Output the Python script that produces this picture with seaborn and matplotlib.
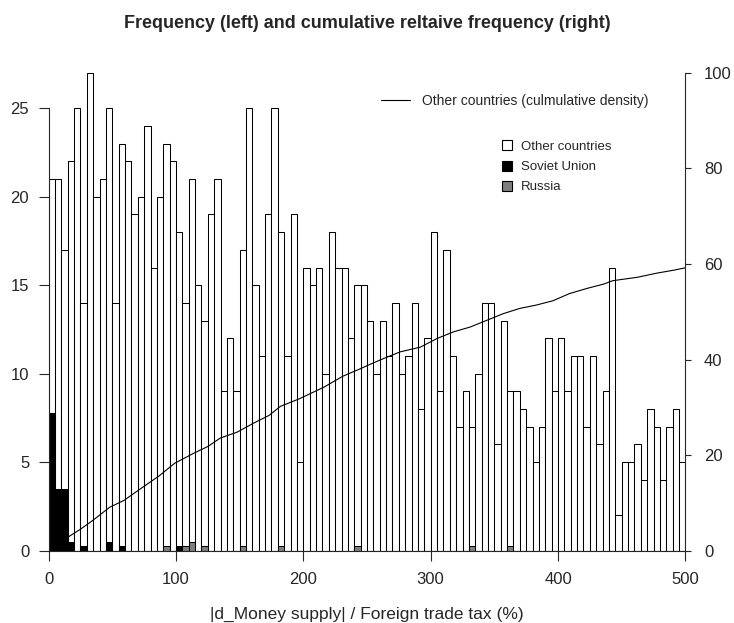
import numpy as np
import pandas as pd
import matplotlib
matplotlib.use("Agg")
import matplotlib.pyplot as plt
from matplotlib.lines import Line2D
import seaborn as sns

# ---------------- data ----------------
bin_width = 5
bin_start = list(range(0, 500, 5))
other_counts = [21, 21, 17, 22, 25, 14, 27, 20, 21, 25, 14, 23, 22, 19, 20, 24, 16, 20, 23, 22,
                18, 14, 21, 15, 13, 19, 21, 9, 12, 9, 17, 25, 15, 11, 19, 25, 18, 11, 19, 5,
                16, 15, 16, 10, 18, 16, 16, 12, 15, 15, 13, 10, 13, 11, 14, 10, 11, 14, 8, 12,
                18, 9, 17, 11, 7, 9, 7, 10, 14, 14, 6, 13, 9, 9, 8, 7, 5, 7, 12, 9,
                12, 9, 11, 11, 7, 11, 6, 9, 16, 2, 5, 5, 6, 4, 8, 7, 4, 7, 8, 5]
soviet_bins = [0, 5, 10, 15, 25, 45, 55, 100]
soviet_vals = [7.8, 3.5, 3.5, 0.5, 0.25, 0.5, 0.25, 0.25]
russia_bins = [90, 105, 110, 120, 150, 180, 240, 330, 360]
russia_vals = [0.25, 0.25, 0.5, 0.25, 0.25, 0.25, 0.25, 0.25, 0.25]
cum_x = [15, 25, 35, 48, 59, 74, 87, 99, 114, 125, 135, 148, 161, 173, 182, 197, 216, 231,
         245, 255, 263, 276, 292, 305, 318, 331, 344, 357, 370, 383, 396, 409, 423, 436,
         443, 462, 478, 491, 500]
cum_y = [2.8, 4.5, 6.4, 9.1, 10.5, 13.3, 15.7, 18.3, 20.4, 21.8, 23.6, 24.8, 26.7, 28.3,
         30.2, 31.8, 34.2, 36.5, 38.1, 39.3, 40.2, 41.6, 42.6, 44.4, 45.8, 46.8, 48.2, 49.6,
         50.7, 51.4, 52.3, 53.8, 54.9, 55.8, 56.5, 57.2, 58.1, 58.7, 59.2]
x_ticks = [0, 100, 200, 300, 400, 500]
left_ticks = [0, 5, 10, 15, 20, 25]
right_ticks = [0, 20, 40, 60, 80, 100]

title = "Frequency (left) and cumulative reltaive frequency (right)"
xlabel = "|d_Money supply| / Foreign trade tax (%)"

# ---------------- style ----------------
sns.set_style("ticks")
plt.rcParams["font.family"] = ["Liberation Sans", "DejaVu Sans"]
plt.rcParams["axes.linewidth"] = 0.8

other_df = pd.DataFrame({"x": [b + bin_width / 2 for b in bin_start], "w": other_counts})
sov_df = pd.DataFrame({"x": [b + bin_width / 2 for b in soviet_bins], "w": soviet_vals})
rus_df = pd.DataFrame({"x": [b + bin_width / 2 for b in russia_bins], "w": russia_vals})
cum_df = pd.DataFrame({"x": cum_x, "y": cum_y})

fig = plt.figure(figsize=(7.34, 6.23), dpi=100)
ax = fig.add_axes([0.0663, 0.1161, 0.8674, 0.767])

bar_kw = dict(binwidth=bin_width, binrange=(0, 500), stat="count", element="bars",
              alpha=1, linewidth=0.75, edgecolor="black", ax=ax)
sns.histplot(data=other_df, x="x", weights="w", color="white", **bar_kw)
sns.histplot(data=sov_df, x="x", weights="w", color="black", **bar_kw)
sns.histplot(data=rus_df, x="x", weights="w", color="#7f7f7f", **bar_kw)

ax.set_xlim(0, 500)
ax.set_ylim(0, 27)
ax.set_xticks(x_ticks)
ax.set_yticks(left_ticks)
ax.set_ylabel("")
ax.set_xlabel(xlabel, fontsize=12.5, labelpad=14)
for s in ["top", "right"]:
    ax.spines[s].set_visible(False)
ax.spines["left"].set_bounds(0, 25)
ax.spines["bottom"].set_bounds(0, 500)
ax.tick_params(axis="x", direction="out", length=7.5, width=0.8, pad=8, labelsize=12)
ax.tick_params(axis="y", direction="out", length=7, width=0.8, pad=7, labelsize=12)

ax2 = ax.twinx()
sns.lineplot(data=cum_df, x="x", y="y", ax=ax2, color="black", linewidth=0.8)
ax2.set_ylim(0, 100)
ax2.set_yticks(right_ticks)
ax2.set_ylabel("")
ax2.set_xlabel("")
for s in ["top", "left", "bottom"]:
    ax2.spines[s].set_visible(False)
ax2.spines["right"].set_bounds(0, 100)
ax2.tick_params(axis="y", direction="out", length=4.5, width=0.8, pad=9, labelsize=12)

fig.suptitle(title, fontsize=13, fontweight="bold", x=0.5, y=1 - 23 / 623, va="center")

# legends
h1 = [Line2D([0], [0], color="black", lw=0.8)]
leg1 = ax2.legend(h1, ["Other countries (culmulative density)"], loc="center left",
                  bbox_to_anchor=(380.7 / 734, 1 - 101 / 623), bbox_transform=fig.transFigure,
                  frameon=False, fontsize=10, borderpad=0, handlelength=2.1,
                  handletextpad=0.85, borderaxespad=0)
ax2.add_artist(leg1)
h2 = [Line2D([0], [0], ls="none", marker="s", markersize=6.5, markerfacecolor=c,
             markeredgecolor="black", markeredgewidth=0.8)
      for c in ["white", "black", "#7f7f7f"]]
leg2 = ax2.legend(h2, ["Other countries", "Soviet Union", "Russia"], loc="center left",
                  bbox_to_anchor=(502.2 / 734, 1 - 167 / 623), bbox_transform=fig.transFigure,
                  frameon=False, fontsize=9.5, borderpad=0, handlelength=0.8,
                  handletextpad=0.62, labelspacing=0.6, borderaxespad=0)

fig.savefig("out.png", dpi=100)
